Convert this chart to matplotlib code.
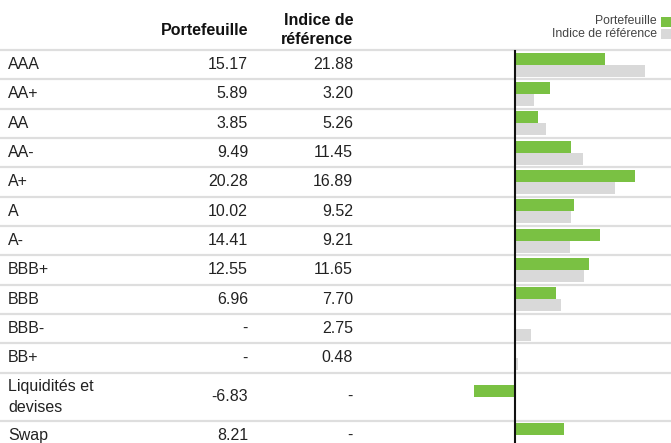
import matplotlib
matplotlib.use("Agg")
import matplotlib.pyplot as plt

# --- data ---
categories = ["AAA", "AA+", "AA", "AA-", "A+", "A", "A-", "BBB+", "BBB",
              "BBB-", "BB+", "Liquidités et\ndevises", "Swap"]
portefeuille = [15.17, 5.89, 3.85, 9.49, 20.28, 10.02, 14.41, 12.55, 6.96,
                None, None, -6.83, 8.21]
indice = [21.88, 3.20, 5.26, 11.45, 16.89, 9.52, 9.21, 11.65, 7.70,
          2.75, 0.48, None, None]
col_headers = ["Portefeuille", "Indice de\nréférence"]
legend_labels = ["Portefeuille", "Indice de référence"]

GREEN = "#7ac143"
GREY = "#d9d9d9"
LINE = "#dedede"

W, H = 671, 443
plt.rcParams["font.family"] = ["Liberation Sans", "DejaVu Sans"]

fig = plt.figure(figsize=(W / 100, H / 100), dpi=100)
ax = fig.add_axes([0, 0, 1, 1])
ax.set_xlim(0, W)
ax.set_ylim(H, 0)
ax.axis("off")

# row geometry (pixels)
header_y = 50
row_h = 29.33
heights = [row_h] * 11 + [48, row_h]
tops = []
y = header_y
for h in heights:
    tops.append(y)
    y += h
centers = [t + h / 2 for t, h in zip(tops, heights)]

# separator lines
for t in tops:
    ax.plot([0, W], [t, t], color=LINE, lw=1.6, solid_capstyle="butt", zorder=1)

fs = 11.5
# headers
ax.text(248, 30, col_headers[0], ha="right", va="center", fontsize=fs,
        fontweight="bold", color="#111111")
ax.text(353, 30, col_headers[1], ha="right", va="center", fontsize=fs,
        fontweight="bold", color="#111111", linespacing=1.3)

def fmt(v):
    return "-" if v is None else f"{v:.2f}"

for cat, p, b, c in zip(categories, portefeuille, indice, centers):
    ax.text(8, c, cat, ha="left", va="center", fontsize=fs, color="#222222",
            linespacing=1.5)
    ax.text(248, c, fmt(p), ha="right", va="center", fontsize=fs, color="#222222")
    ax.text(353, c, fmt(b), ha="right", va="center", fontsize=fs, color="#222222")

# bar axes: zero at x=515, ~5.93 px per unit
zero_px, scale = 515, 5.93
bx = fig.add_axes([0, 0, 1, 1])
bx.set_xlim(-zero_px / scale, (W - zero_px) / scale)
bx.set_ylim(H, 0)
bx.axis("off")
bar_h = 12
pv = [0 if v is None else v for v in portefeuille]
iv = [0 if v is None else v for v in indice]
bx.barh([c - bar_h / 2 for c in centers], pv, height=bar_h, color=GREEN, zorder=2)
bx.barh([c + bar_h / 2 for c in centers], iv, height=bar_h, color=GREY, zorder=2)
bx.plot([0, 0], [header_y + 1, H], color="#111111", lw=1.5, zorder=3)

# legend
ax.text(657, 21, legend_labels[0], ha="right", va="center", fontsize=8.8, color="#444444")
ax.text(657, 33.5, legend_labels[1], ha="right", va="center", fontsize=8.8, color="#444444")
ax.add_patch(plt.Rectangle((661, 16.5), 11, 10, color=GREEN, lw=0))
ax.add_patch(plt.Rectangle((661, 29), 11, 10, color=GREY, lw=0))

fig.savefig("out.png", dpi=100)
